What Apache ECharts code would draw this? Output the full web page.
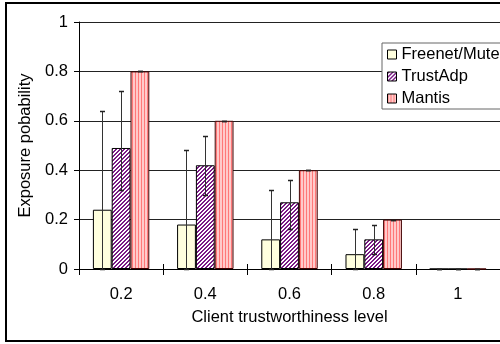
<!DOCTYPE html>
<html>
<head>
<meta charset="utf-8">
<script src="https://cdn.jsdelivr.net/npm/echarts@6/dist/echarts.min.js"></script>
<style>
html,body{margin:0;padding:0;background:#fff;}
#chart{width:500px;height:344px;}
</style>
</head>
<body>
<div id="chart"></div>
<script>
// ---- data ----
const categories = ['0.2', '0.4', '0.6', '0.8', '1'];
const seriesNames = ['Freenet/Mute', 'TrustAdp', 'Mantis'];
const freenetValues = [0.24, 0.18, 0.12, 0.06, 0];
const trustAdpValues = [0.49, 0.42, 0.27, 0.12, 0];
const mantisValues = [0.8, 0.6, 0.4, 0.2, 0];
const freenetErrLow = [0, 0, 0, 0, 0];
const freenetErrHigh = [0.64, 0.48, 0.32, 0.16, 0];
const trustAdpErrLow = [0.32, 0.30, 0.16, 0.06, 0];
const trustAdpErrHigh = [0.72, 0.54, 0.36, 0.18, 0];
const mantisErrLow = [0.8, 0.6, 0.4, 0.2, 0];
const mantisErrHigh = [0.8, 0.6, 0.4, 0.2, 0];
const yTicks = [0, 0.2, 0.4, 0.6, 0.8, 1];

// ---- patterns ----
function tile(w, h, fn) {
  const c = document.createElement('canvas');
  c.width = w; c.height = h;
  const ctx = c.getContext('2d');
  for (let y = 0; y < h; y++) for (let x = 0; x < w; x++) {
    ctx.fillStyle = fn(x, y);
    ctx.fillRect(x, y, 1, 1);
  }
  return c;
}
const freenetFill = '#FFFFDE';
const trustTile = tile(4, 4, (x, y) => ((x + y) % 4 < 2 ? '#7A1A86' : '#FFFFFF'));
const mantisTile = tile(3, 1, (x) => (x === 0 ? '#FF7878' : '#FFCACA'));

const FONT = '"Liberation Sans", Arial, sans-serif';
const FS = 16.5;
const GAP = 0.33;

function errSeries(idx, lows, highs) {
  return {
    type: 'custom',
    z: 10,
    silent: true,
    data: categories.map((c, i) => [i, lows[i], highs[i]]),
    encode: { x: 0, y: [1, 2] },
    renderItem: function (params, api) {
      const i = api.value(0);
      const lo = api.coord([i, api.value(1)]);
      const hi = api.coord([i, api.value(2)]);
      const band = api.size([1, 0])[0];
      const bw = band * (1 - GAP) / 3;
      const x = Math.round(lo[0] + (idx - 1) * bw) + 0.5;
      const y1 = Math.round(lo[1]) + 0.5, y2 = Math.round(hi[1]) + 0.5;
      const st = { stroke: '#333', lineWidth: 1 };
      return {
        type: 'group',
        children: [
          { type: 'line', shape: { x1: x, y1: y1, x2: x, y2: y2 }, style: st },
          { type: 'line', shape: { x1: x - 2.5, y1: y1, x2: x + 2.5, y2: y1 }, style: { stroke: '#222', lineWidth: 1.5 } },
          { type: 'line', shape: { x1: x - 2.5, y1: y2, x2: x + 2.5, y2: y2 }, style: { stroke: '#222', lineWidth: 1.5 } }
        ]
      };
    }
  };
}

const chart = echarts.init(document.getElementById('chart'), null, { renderer: 'canvas' });
chart.setOption({
  backgroundColor: '#fff',
  animation: false,
  textStyle: { fontFamily: FONT },
  grid: { left: 79, top: 22, width: 425, height: 247, containLabel: false },
  graphic: [{
    type: 'rect', z: 100, silent: true,
    shape: { x: 6, y: 3, width: 600, height: 338 },
    style: { fill: 'none', stroke: '#000', lineWidth: 2 }
  }],
  legend: {
    orient: 'vertical',
    left: 382, top: 43,
    padding: [3, 30, 2, 5],
    itemGap: 5,
    itemWidth: 9, itemHeight: 9,
    icon: 'rect',
    itemStyle: { borderColor: '#000', borderWidth: 1 },
    backgroundColor: '#fff',
    borderColor: '#666', borderWidth: 1,
    borderRadius: 0,
    data: seriesNames,
    textStyle: { fontFamily: FONT, fontSize: FS, color: '#000', lineHeight: 17 }
  },
  xAxis: [{
    type: 'category',
    data: categories,
    name: 'Client trustworthiness level',
    nameLocation: 'middle',
    nameGap: 40,
    nameTextStyle: { fontFamily: FONT, fontSize: FS, color: '#000' },
    axisLine: { lineStyle: { color: '#000', width: 1 } },
    axisTick: { show: true, length: 6, lineStyle: { color: '#000' } },
    axisLabel: { fontFamily: FONT, fontSize: FS, color: '#000', margin: 17 },
    splitLine: { show: false }
  }, {
    type: 'category',
    data: categories,
    position: 'bottom',
    axisLine: { show: false },
    axisTick: { show: true, inside: true, length: 5, lineStyle: { color: '#000' } },
    axisLabel: { show: false },
    splitLine: { show: false }
  }],
  yAxis: {
    type: 'value',
    min: 0, max: 1, interval: 0.2,
    name: 'Exposure pobability',
    nameLocation: 'middle',
    nameGap: 44,
    nameTextStyle: { fontFamily: FONT, fontSize: FS, color: '#000' },
    axisLine: { show: true, lineStyle: { color: '#000', width: 1 } },
    axisTick: { show: true, length: 5, lineStyle: { color: '#000' } },
    axisLabel: {
      fontFamily: FONT, fontSize: FS, color: '#000', margin: 11,
      formatter: function (v) {
        const t = yTicks.find(k => Math.abs(k - v) < 1e-9);
        return t === undefined ? '' : String(t);
      }
    },
    splitLine: { show: true, lineStyle: { color: '#222', width: 1 } }
  },
  series: [
    {
      name: seriesNames[0], type: 'bar', data: freenetValues,
      barGap: 0, barCategoryGap: (GAP * 100) + '%',
      itemStyle: { color: freenetFill, borderColor: '#000', borderWidth: 1 }
    },
    {
      name: seriesNames[1], type: 'bar', data: trustAdpValues,
      barGap: 0, barCategoryGap: (GAP * 100) + '%',
      itemStyle: { color: { image: trustTile, repeat: 'repeat' }, borderColor: '#000', borderWidth: 1 }
    },
    {
      name: seriesNames[2], type: 'bar', data: mantisValues,
      barGap: 0, barCategoryGap: (GAP * 100) + '%',
      itemStyle: { color: { image: mantisTile, repeat: 'repeat' }, borderColor: '#400000', borderWidth: 1 }
    },
    errSeries(0, freenetErrLow, freenetErrHigh),
    errSeries(1, trustAdpErrLow, trustAdpErrHigh),
    errSeries(2, mantisErrLow, mantisErrHigh)
  ]
});
</script>
</body>
</html>
